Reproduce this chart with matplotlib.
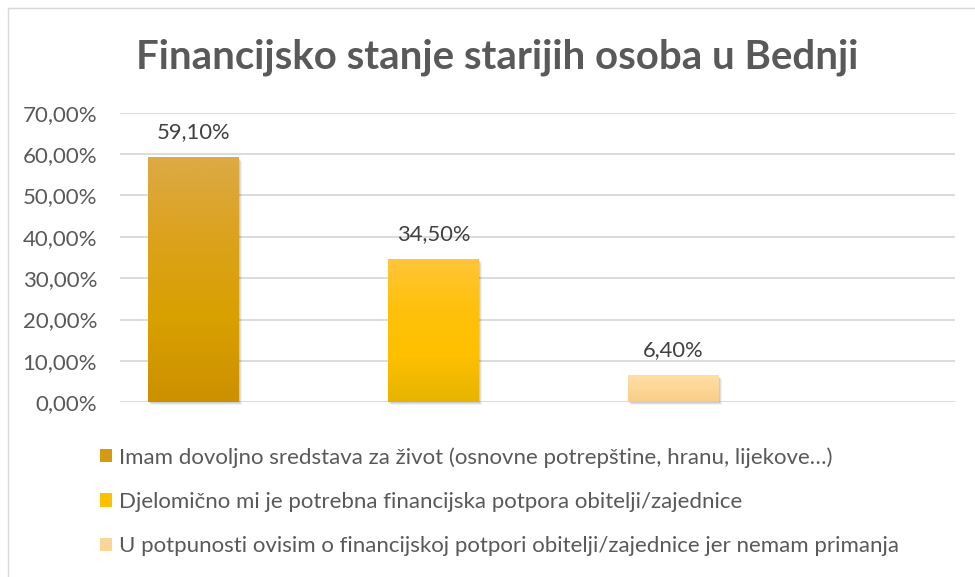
import numpy as np
import matplotlib
matplotlib.use("Agg")
import matplotlib.pyplot as plt
from matplotlib.patches import Rectangle, Patch
import matplotlib.transforms as mtrans
from matplotlib.colors import LinearSegmentedColormap

# ---- data ----
title = "Financijsko stanje starijih osoba u Bednji"
categories = [
    "Imam dovoljno sredstava za život (osnovne potrepštine, hranu, lijekove…)",
    "Djelomično mi je potrebna financijska potpora obitelji/zajednice",
    "U potpunosti ovisim o financijskoj potpori obitelji/zajednice jer nemam primanja",
]
values = [0.591, 0.345, 0.064]
value_labels = ["59,10%", "34,50%", "6,40%"]
y_ticks = [0.0, 0.1, 0.2, 0.3, 0.4, 0.5, 0.6, 0.7]
y_tick_labels = ["0,00%", "10,00%", "20,00%", "30,00%", "40,00%", "50,00%", "60,00%", "70,00%"]

# ---- style ----
gradients = [
    ["#DCAA46", "#DCA21C", "#D9A000", "#CC9000"],
    ["#FFC63A", "#FFC10C", "#FFC000", "#E6B400"],
    ["#FEDFA6", "#FDDA9C", "#FBD494", "#F7CC86"],
]
legend_colors = ["#D39A12", "#FFC000", "#FBD699"]
text_color = "#595959"
grid_color = "#D9D9D9"
font = "Lato"

plt.rcParams["font.family"] = [font, "DejaVu Sans"]

fig = plt.figure(figsize=(9.75, 5.77), dpi=100)
fig.patch.set_facecolor("white")

# chart border (top and left visible)
fig.add_artist(plt.Line2D([7.5 / 975, 7.5 / 975], [0, 1 - 7.5 / 577], transform=fig.transFigure,
                          color="#D9D9D9", lw=1.0))
fig.add_artist(plt.Line2D([7.5 / 975, 1], [1 - 7.5 / 577, 1 - 7.5 / 577], transform=fig.transFigure,
                          color="#D9D9D9", lw=1.0))

ax = fig.add_axes([120 / 975, (577 - 402.3) / 577, (955 - 120) / 975, (402.3 - 112.7) / 577])
x = np.arange(len(values))
width = 0.379
bars = ax.bar(x, values, width=width, color="none", zorder=3)

for i, b in enumerate(bars):
    cmap = LinearSegmentedColormap.from_list(f"g{i}", gradients[i][::-1])
    grad = np.linspace(0, 1, 256).reshape(-1, 1)
    x0, y0 = b.get_x(), b.get_y()
    w, h = b.get_width(), b.get_height()
    # soft shadow
    for dx, dy, a in [(3, -3, 0.05), (2, -2, 0.07), (1, -1, 0.09)]:
        sh = Rectangle((x0, y0), w, h, facecolor="black", edgecolor="none", alpha=a, zorder=2,
                       transform=ax.transData + mtrans.ScaledTranslation(dx / 100, dy / 100, fig.dpi_scale_trans))
        sh.set_clip_on(False)
        ax.add_patch(sh)
    ax.imshow(grad, cmap=cmap, aspect="auto", extent=[x0, x0 + w, y0, y0 + h],
              origin="lower", zorder=3, interpolation="bilinear")
    ax.annotate(value_labels[i], (b.get_x() + w / 2, values[i]), xytext=(0, 11),
                textcoords="offset points", ha="center", va="bottom",
                fontsize=15.8, color="#404040", zorder=4)

ax.set_xlim(-0.306, 3.173)
ax.set_ylim(0, 0.70)
ax.set_yticks(y_ticks)
ax.set_yticklabels(y_tick_labels, fontsize=16, color=text_color)
ax.set_xticks([])
ax.tick_params(axis="y", length=0, pad=16.5)
ax.grid(axis="y", color=grid_color, lw=1.3, zorder=0)
ax.set_axisbelow(True)
for s in ax.spines.values():
    s.set_visible(False)

fig.text(497.5 / 975, 1 - 57 / 577, title, ha="center", va="center", fontsize=28.9, fontweight="bold",
         color=text_color)

handles = [Patch(facecolor=c, edgecolor="none") for c in legend_colors]
leg = fig.legend(handles, categories, loc="upper left", bbox_to_anchor=(100 / 975, 1 - 447 / 577),
                 frameon=False, fontsize=16, labelspacing=1.1, handlelength=0.55, handleheight=0.55,
                 handletextpad=0.3, borderaxespad=0, borderpad=0)
for t in leg.get_texts():
    t.set_color(text_color)

fig.savefig("out.png", dpi=100, facecolor="white")
